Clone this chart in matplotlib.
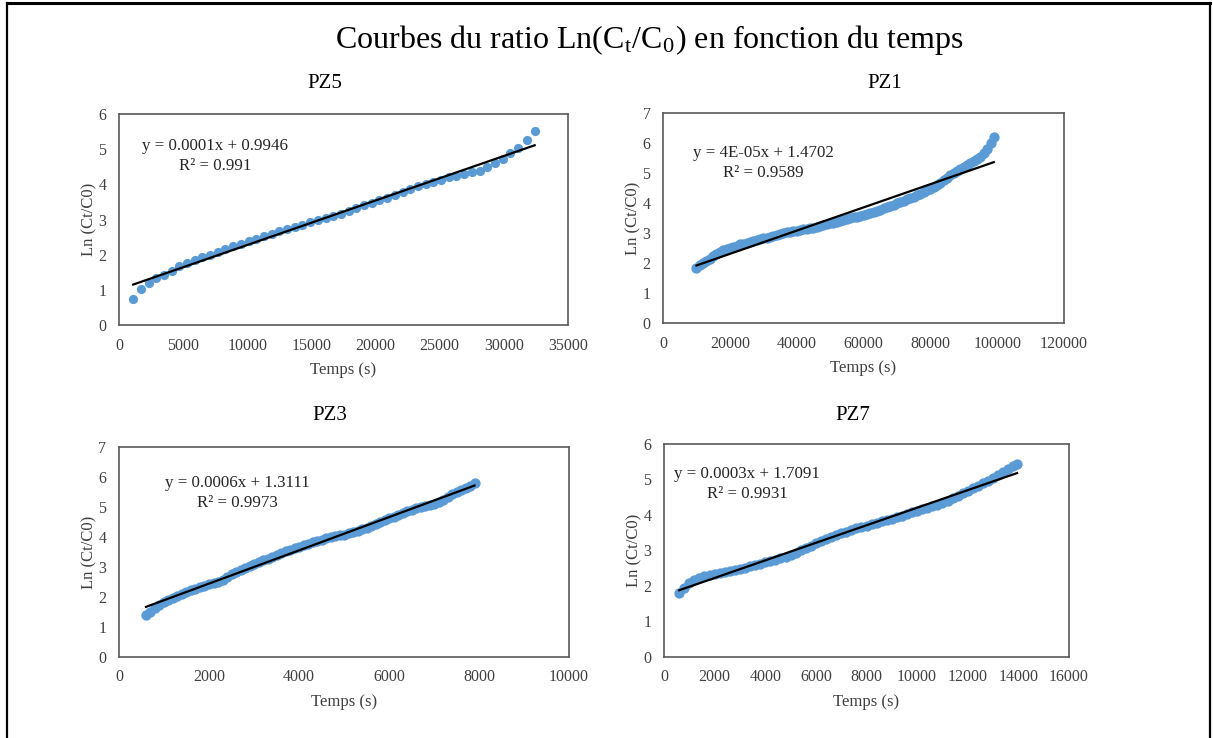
import matplotlib.pyplot as plt
from matplotlib.lines import Line2D
import numpy as np

plt.rcParams['font.family'] = ['Liberation Serif', 'DejaVu Serif']
plt.rcParams['mathtext.fontset'] = 'stix'

# PZ5
pz5_t = [1100, 1700, 2300, 2900, 3500, 4100, 4700, 5300, 5900, 6500, 7100, 7700,
         8300, 8900, 9500, 10100, 10700, 11300, 11900, 12500, 13100, 13700, 14300,
         14900, 15500, 16100, 16700, 17300, 17900, 18500, 19100, 19700, 20300, 20900,
         21500, 22100, 22700, 23300, 23900, 24500, 25100, 25700, 26300, 26900, 27500,
         28100, 28700, 29300, 29900, 30500, 31100, 31800, 32400]
pz5_y = [0.73, 1.03, 1.2, 1.35, 1.42, 1.55, 1.67, 1.77, 1.85, 1.92, 2.0, 2.08,
         2.15, 2.24, 2.3, 2.38, 2.45, 2.52, 2.6, 2.67, 2.72, 2.8, 2.85,
         2.92, 2.98, 3.05, 3.1, 3.17, 3.25, 3.32, 3.4, 3.47, 3.55, 3.62,
         3.7, 3.78, 3.87, 3.95, 4.02, 4.08, 4.13, 4.2, 4.25, 4.3, 4.35,
         4.38, 4.5, 4.62, 4.72, 4.88, 5.02, 5.26, 5.51]

# PZ1 (one reading every 1000 s)
pz1_t = list(range(10000, 100000, 1000))
pz1_y = [1.83, 1.92, 2.0, 2.08, 2.15, 2.23, 2.3, 2.36, 2.42, 2.46,
         2.5, 2.54, 2.58, 2.62, 2.65, 2.68, 2.71, 2.74, 2.77, 2.8,
         2.83, 2.85, 2.88, 2.91, 2.94, 2.97, 2.99, 3.02, 3.04, 3.06,
         3.08, 3.1, 3.12, 3.14, 3.16, 3.18, 3.21, 3.24, 3.27, 3.3,
         3.33, 3.35, 3.38, 3.4, 3.43, 3.46, 3.49, 3.52, 3.55, 3.58,
         3.61, 3.64, 3.68, 3.71, 3.75, 3.78, 3.82, 3.86, 3.9, 3.94,
         3.99, 4.03, 4.08, 4.12, 4.17, 4.21, 4.26, 4.31, 4.37, 4.42,
         4.48, 4.54, 4.6, 4.67, 4.75, 4.84, 4.93, 5.0, 5.07, 5.13,
         5.2, 5.27, 5.33, 5.4, 5.46, 5.52, 5.65, 5.8, 6.0, 6.2]

# PZ3 (one reading every 100 s)
pz3_t = list(range(600, 8000, 100))
pz3_y = [1.41, 1.5, 1.62, 1.72, 1.82, 1.9, 1.97, 2.04, 2.1, 2.16,
         2.22, 2.27, 2.32, 2.37, 2.42, 2.46, 2.5, 2.58, 2.68, 2.76,
         2.84, 2.91, 2.98, 3.04, 3.1, 3.16, 3.22, 3.28, 3.34, 3.4,
         3.46, 3.52, 3.58, 3.63, 3.68, 3.73, 3.78, 3.83, 3.87, 3.91,
         3.95, 3.99, 4.02, 4.05, 4.08, 4.12, 4.16, 4.2, 4.25, 4.31,
         4.37, 4.44, 4.5, 4.56, 4.62, 4.68, 4.74, 4.8, 4.86, 4.91,
         4.95, 4.99, 5.02, 5.06, 5.1, 5.16, 5.23, 5.33, 5.42, 5.5,
         5.57, 5.63, 5.7, 5.8]

# PZ7 (one reading every 200 s)
pz7_t = list(range(600, 14000, 200)) + [13950]
pz7_y = [1.79, 1.95, 2.07, 2.16, 2.23, 2.28, 2.31, 2.34, 2.37, 2.39,
         2.42, 2.45, 2.49, 2.52, 2.56, 2.59, 2.63, 2.67, 2.7, 2.74,
         2.78, 2.82, 2.87, 2.93, 3.0, 3.07, 3.14, 3.2, 3.26, 3.32,
         3.38, 3.43, 3.49, 3.53, 3.58, 3.62, 3.66, 3.7, 3.74, 3.78,
         3.82, 3.86, 3.9, 3.94, 3.98, 4.03, 4.07, 4.11, 4.16, 4.2,
         4.24, 4.28, 4.33, 4.39, 4.47, 4.54, 4.61, 4.68, 4.75, 4.82,
         4.89, 4.96, 5.04, 5.12, 5.21, 5.3, 5.38, 5.44]

panels = [
    ("PZ5", pz5_t, pz5_y, 35000, 5000, 6, "y = 0.0001x + 0.9946\nR² = 0.991",
     [0.0981, 0.5596, 0.3702, 0.2859], (0.214, 0.80), (325, 84), 44),
    ("PZ1", pz1_t, pz1_y, 120000, 20000, 7, "y = 4E-05x + 1.4702\nR² = 0.9589",
     [0.5466, 0.5623, 0.3306, 0.2846], (0.249, 0.762), (885, 84), 55),
    ("PZ3", pz3_t, pz3_y, 10000, 2000, 7, "y = 0.0006x + 1.3111\nR² = 0.9973",
     [0.0981, 0.1098, 0.3710, 0.2846], (0.262, 0.781), (330, 415), 55),
    ("PZ7", pz7_t, pz7_y, 16000, 2000, 6, "y = 0.0003x + 1.7091\nR² = 0.9931",
     [0.5474, 0.1098, 0.3339, 0.2886], (0.205, 0.812), (853, 415), 55),
]

W, H = 1213, 738
fig = plt.figure(figsize=(W / 100, H / 100), dpi=100)

for name, t, y, xmax, xstep, ymax, eq, pos, eqpos, tpos, ms in panels:
    ax = fig.add_axes(pos)
    t = np.array(t, dtype=float)
    y = np.array(y, dtype=float)
    ax.scatter(t, y, s=ms, color="#5B9BD5", zorder=2, linewidths=0)
    a, b = np.polyfit(t, y, 1)
    ax.plot([t.min(), t.max()], [a * t.min() + b, a * t.max() + b],
            color="black", lw=1.6, zorder=3)
    ax.set_xlim(0, xmax)
    ax.set_ylim(0, ymax)
    ax.set_xticks(np.arange(0, xmax + 1, xstep))
    ax.set_yticks(np.arange(0, ymax + 1, 1))
    ax.tick_params(length=0, labelsize=11.5, colors="#404040", pad=9)
    for s in ax.spines.values():
        s.set_color("#595959")
        s.set_linewidth(1.2)
    ax.set_xlabel("Temps (s)", fontsize=12, color="#404040", labelpad=6)
    ax.set_ylabel("Ln (Ct/C0)", fontsize=12, color="#404040", labelpad=1)
    ax.text(eqpos[0], eqpos[1], eq, transform=ax.transAxes, ha="center",
            va="center", multialignment="center", fontsize=12.2,
            color="#262626", linespacing=1.3)
    fig.text(tpos[0] / W, 1 - tpos[1] / H, name, ha="center", va="center",
             fontsize=15)

fig.text(650 / W, 1 - 40 / H,
         r"Courbes du ratio Ln(C$_\mathregular{t}$/C$_\mathregular{0}$) en fonction du temps",
         ha="center", va="center", fontsize=23)

# frame around the figure
fig.add_artist(Line2D([7 / W, 1210 / W], [1 - 3 / H, 1 - 3 / H], color="black", lw=2.2))
fig.add_artist(Line2D([7 / W, 7 / W], [0, 1 - 3 / H], color="black", lw=1.6))
fig.add_artist(Line2D([1210 / W, 1210 / W], [0, 1 - 3 / H], color="black", lw=1.6))

fig.savefig("out.png", dpi=100)
